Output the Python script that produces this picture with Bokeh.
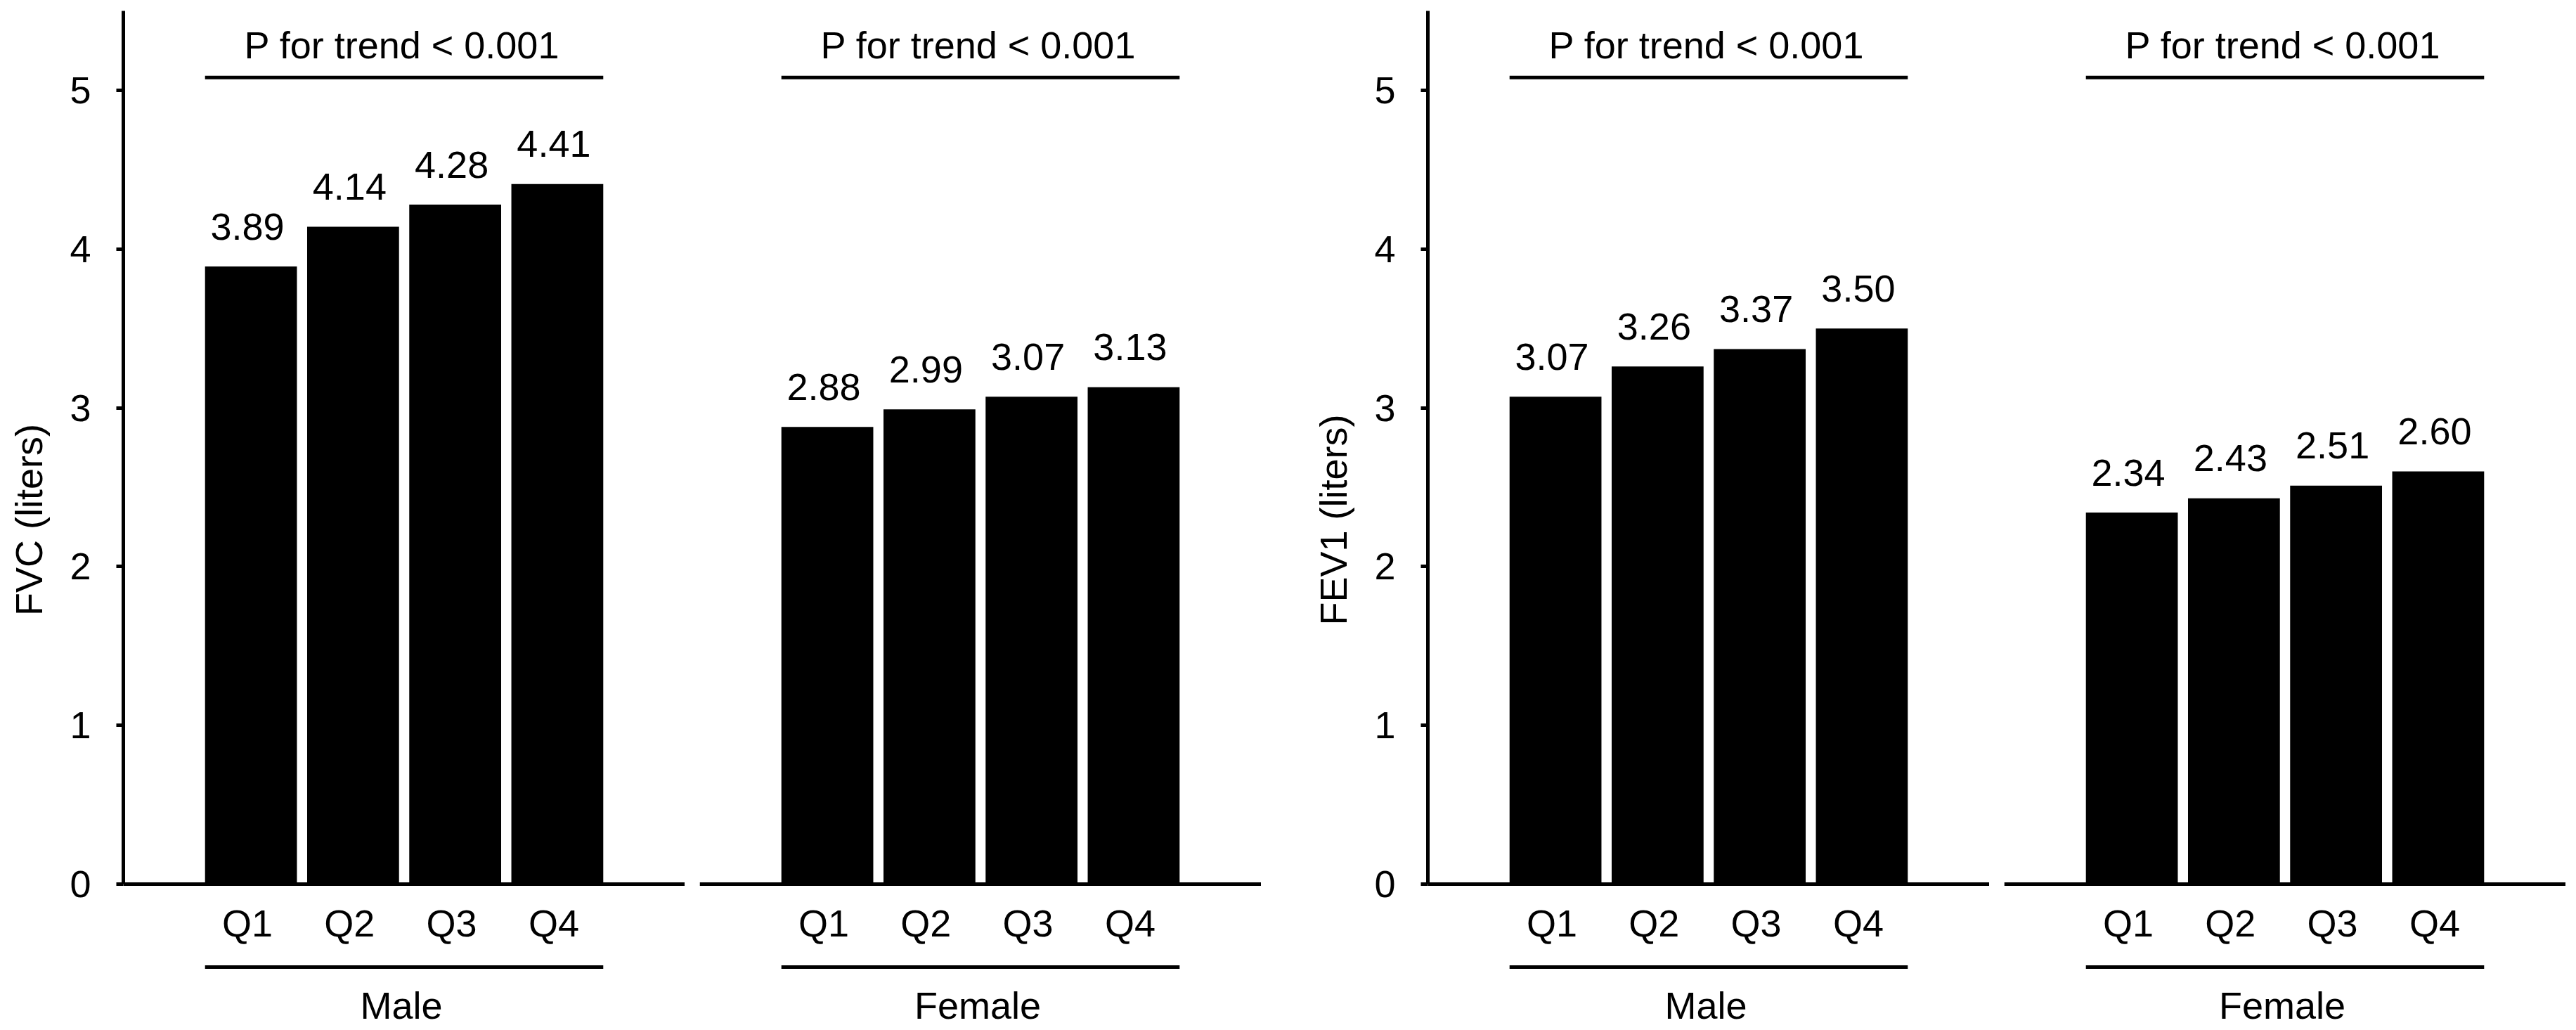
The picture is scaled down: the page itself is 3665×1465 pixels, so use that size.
from bokeh.plotting import figure
from bokeh.models import Range1d, LinearAxis, FixedTicker
from bokeh.layouts import row
from bokeh.embed import file_html
from bokeh.resources import INLINE
from bokeh.core.properties import value

# ---------------- data ----------------
quartiles = ["Q1", "Q2", "Q3", "Q4"]
groups = ["Male", "Female"]
fvc_male = [3.89, 4.14, 4.28, 4.41]
fvc_female = [2.88, 2.99, 3.07, 3.13]
fev1_male = [3.07, 3.26, 3.37, 3.50]
fev1_female = [2.34, 2.43, 2.51, 2.60]
trend_label = "P for trend < 0.001"
y_ticks = [0, 1, 2, 3, 4, 5]
y_titles = ["FVC (liters)", "FEV1 (liters)"]

# ---------------- style ----------------
FONT = "Liberation Sans"
FS = "54px"
LW = 5
BAR_W = 0.9
X0, X1 = -0.25, 5.25
Y0, Y1 = -0.912, 5.5
FRAME_W, FRAME_H = 799, 1448


def make_panel(vals, group, ytitle, border_left):
    xs = list(range(1, len(vals) + 1))
    p = figure(frame_width=FRAME_W, frame_height=FRAME_H,
               x_range=Range1d(X0, X1), y_range=Range1d(Y0, Y1),
               x_axis_type=None, y_axis_type=None,
               output_backend="svg", toolbar_location=None,
               min_border_left=border_left, min_border_right=0,
               min_border_top=15, min_border_bottom=0,
               background_fill_color="white", border_fill_color="white")
    p.outline_line_color = None

    if ytitle is not None:
        ax = LinearAxis(ticker=FixedTicker(ticks=y_ticks), bounds=(0, Y1),
                        axis_label=ytitle)
        ax.axis_line_width = LW
        ax.axis_line_color = "black"
        ax.major_tick_line_width = LW
        ax.major_tick_line_color = "black"
        ax.major_tick_in = 0
        ax.major_tick_out = 10
        ax.minor_tick_line_color = None
        ax.major_label_text_font = FONT
        ax.major_label_text_font_size = FS
        ax.major_label_text_color = "black"
        ax.major_label_standoff = 36
        ax.axis_label_text_font = FONT
        ax.axis_label_text_font_size = FS
        ax.axis_label_text_font_style = "normal"
        ax.axis_label_text_color = "black"
        ax.axis_label_standoff = 25
        p.add_layout(ax, "left")

    txt = dict(text_font=value(FONT), text_font_size=FS, text_color="black",
               text_align="center", text_baseline="middle")

    # baseline (x axis line)
    p.segment(x0=[X0], y0=[0], x1=[X1], y1=[0], line_width=LW, line_color="black")

    # bars
    p.vbar(x=xs, top=vals, bottom=0, width=BAR_W, fill_color="black", line_color=None)

    # value labels
    p.text(x=xs, y=vals, text=[f"{v:.2f}" for v in vals],
           x_offset=-5, y_offset=-57, **txt)

    left = xs[0] - BAR_W / 2
    right = xs[-1] + BAR_W / 2
    mid = (xs[0] + xs[-1]) / 2

    # trend annotation
    p.segment(x0=[left], y0=[5.08], x1=[right], y1=[5.08], line_width=LW, line_color="black")
    p.text(x=[mid], y=[5.08], text=[trend_label], x_offset=-3, y_offset=-46, **txt)

    # quartile labels
    p.text(x=xs, y=[0] * len(xs), text=quartiles, x_offset=-5, y_offset=55, **txt)

    # group line and label
    p.segment(x0=[left], y0=[-0.5226], x1=[right], y1=[-0.5226], line_width=LW, line_color="black")
    p.text(x=[mid], y=[0], text=[group], x_offset=-4, y_offset=172, **txt)
    return p


f1 = make_panel(fvc_male, groups[0], y_titles[0], 175)
f2 = make_panel(fvc_female, groups[1], None, 21)
f3 = make_panel(fev1_male, groups[0], y_titles[1], 237)
f4 = make_panel(fev1_female, groups[1], None, 21)

layout = row(f1, f2, f3, f4, spacing=0)

with open("out.html", "w") as fh:
    fh.write(file_html(layout, INLINE))
